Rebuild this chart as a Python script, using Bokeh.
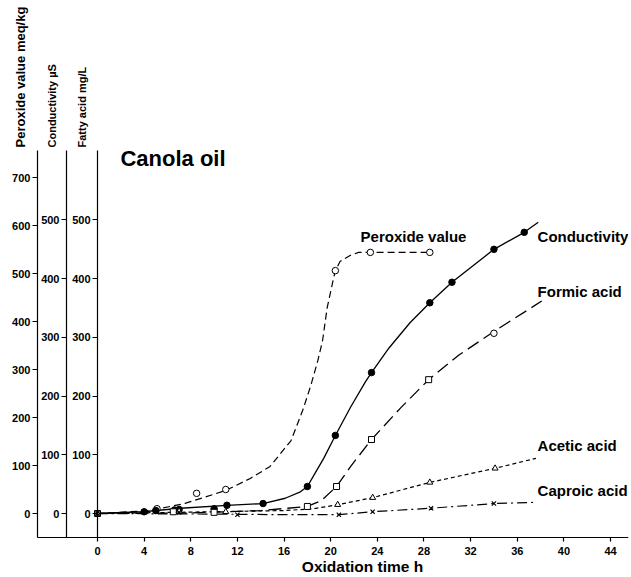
import math
from bokeh.plotting import figure
from bokeh.models import LinearAxis, Range1d, Label, FixedTicker
from bokeh.embed import file_html
from bokeh.resources import INLINE

# ---------------- data ----------------
x_ticks = [0, 4, 8, 12, 16, 20, 24, 28, 32, 36, 40, 44]
fatty_ticks = [0, 100, 200, 300, 400, 500]
cond_ticks = [0, 100, 200, 300, 400, 500]
perox_ticks = [0, 100, 200, 300, 400, 500, 600, 700]

axis_titles = ["Peroxide value meq/kg", "Conductivity \u00b5S", "Fatty acid mg/L"]
x_title = "Oxidation time h"
series_names = ["Peroxide value", "Conductivity", "Formic acid", "Acetic acid", "Caproic acid"]

# Peroxide value (meq/kg)
perox_pts_t = [0, 5.1, 8.5, 11.0, 20.4, 23.4, 28.5]
perox_pts_v = [0, 10, 42, 50, 506, 544, 544]
perox_curve_t = [0, 4.5, 7.5, 11.0, 13.1, 14.8, 16.6, 17.6, 18.3, 18.9, 19.3, 19.7, 20.2, 20.4, 20.8, 21.7, 22.4, 23.4, 28.5]
perox_curve_v = [0, 6, 21, 48, 73, 98, 152, 215, 267, 319, 360, 429, 485, 506, 525, 538, 544, 544, 544]

# Conductivity (uS)
cond_pts_t = [0, 4.0, 5.0, 6.6, 7.0, 10.0, 11.1, 14.2, 18.0, 20.4, 23.5, 28.5, 30.4, 34.0, 36.6]
cond_pts_v = [0, 3, 5, 6, 7, 8, 14, 17, 46, 133, 240, 359, 394, 450, 479]
cond_curve_t = [0, 3.9, 7.1, 11.1, 14.2, 16.1, 17.4, 18.0, 18.7, 19.4, 20.4, 21.7, 23.0, 23.5, 25.0, 26.8, 28.5, 30.4, 34.0, 36.6, 37.8]
cond_curve_v = [0, 3, 9, 14, 17, 26, 37, 46, 70, 94, 133, 181, 225, 240, 282, 325, 359, 394, 450, 479, 496]

# Formic acid (mg/L)
formic_pts_t = [0, 6.5, 10.0, 18.0, 20.5, 23.5, 28.4]
formic_pts_v = [0, 3, 2, 12, 46, 126, 228]
formic_open_t = [34.0]
formic_open_v = [307]
formic_curve_t = [0, 8, 14, 18.0, 19.2, 20.5, 21.7, 23.5, 26.0, 28.4, 31.0, 34.0, 38.1]
formic_curve_v = [0, 1, 5, 12, 22, 46, 80, 126, 180, 228, 270, 310, 362]

# Acetic acid (mg/L)
acetic_pts_t = [0, 7.0, 11.0, 20.6, 23.6, 28.5, 34.1]
acetic_pts_v = [0, 4, 3, 15, 27, 53, 77]
acetic_curve_t = [0, 10, 16, 18.5, 20.6, 23.6, 28.5, 34.1, 37.6]
acetic_curve_v = [0, 3, 5, 8, 15, 27, 53, 77, 94]

# Caproic acid (mg/L)
caproic_pts_t = [0, 7.0, 12.0, 20.7, 23.6, 28.6, 34.0]
caproic_pts_v = [0, 2, -2, -2, 3, 9, 17]
caproic_curve_t = [0, 10, 16, 20.7, 23.6, 28.6, 34.0, 37.7]
caproic_curve_v = [0, -1, -2, -2, 3, 9, 17, 19]

FONT = "Liberation Sans"

# where the extra axes stand (hours left of zero) and where the time axis lies
COND_AXIS_AT = -2.66
PEROX_AXIS_AT = -5.15
TIME_AXIS_AT = -40.9
AXIS_TOP = 618.4

p = figure(width=631, height=577, output_backend="svg", toolbar_location=None,
           x_range=Range1d(-8.319, 45.54), y_range=Range1d(-109.0, 873.9),
           min_border_left=0, min_border_right=3, min_border_top=0,
           min_border_bottom=0, background_fill_color="white",
           border_fill_color="white")
p.extra_y_ranges = {"cond": Range1d(-109.0, 873.9), "perox": Range1d(-133.3, 1068.75)}
p.xgrid.visible = False
p.ygrid.visible = False
p.outline_line_color = None


def style_axis(ax, ticks, tick_out, standoff):
    ax.ticker = FixedTicker(ticks=ticks)
    ax.minor_tick_line_color = None
    ax.major_tick_in = 0
    ax.major_tick_out = tick_out
    ax.major_label_standoff = standoff
    ax.major_label_text_font = FONT
    ax.major_label_text_font_size = "11px"
    ax.major_label_text_font_style = "bold"
    ax.major_label_text_color = "black"
    ax.axis_line_color = "black"
    ax.axis_line_width = 1.2
    ax.major_tick_line_color = "black"
    ax.major_tick_line_width = 1.2


# time axis (its line runs from the peroxide axis to the right edge)
xa = p.xaxis[0]
style_axis(xa, x_ticks, 4, 5)
xa.fixed_location = TIME_AXIS_AT
xa.bounds = (PEROX_AXIS_AT, 45.54)

# fatty acid axis at t = 0
ya = p.yaxis[0]
style_axis(ya, fatty_ticks, 5, 2)
ya.fixed_location = 0
ya.bounds = (TIME_AXIS_AT, AXIS_TOP)

# conductivity axis
ca = LinearAxis(y_range_name="cond", fixed_location=COND_AXIS_AT)
style_axis(ca, cond_ticks, 5, 2)
ca.bounds = (TIME_AXIS_AT, AXIS_TOP)
p.add_layout(ca, "left")

# peroxide axis
pa = LinearAxis(y_range_name="perox", fixed_location=PEROX_AXIS_AT)
style_axis(pa, perox_ticks, 5, 2)
pa.bounds = (-50, 756.25)
p.add_layout(pa, "left")

# ---------------- curves ----------------
p.line(perox_curve_t, perox_curve_v, y_range_name="perox", line_color="black",
       line_width=1.2, line_dash="7 4")
p.line(cond_curve_t, cond_curve_v, y_range_name="cond", line_color="black",
       line_width=1.3)
p.line(formic_curve_t, formic_curve_v, line_color="black", line_width=1.3,
       line_dash="13 6")
p.line(acetic_curve_t, acetic_curve_v, line_color="black", line_width=1.2,
       line_dash="4 3")
p.line(caproic_curve_t, caproic_curve_v, line_color="black", line_width=1.2,
       line_dash="10 4 2 4")

# ---------------- markers ----------------
p.scatter(perox_pts_t, perox_pts_v, y_range_name="perox", marker="circle",
          size=6.5, fill_color="white", line_color="black", line_width=1)
p.scatter(cond_pts_t, cond_pts_v, y_range_name="cond", marker="circle",
          size=6.5, fill_color="black", line_color="black")
p.scatter(formic_pts_t, formic_pts_v, marker="square", size=6,
          fill_color="white", line_color="black", line_width=1)
p.scatter(formic_open_t, formic_open_v, marker="circle", size=6.5,
          fill_color="white", line_color="black", line_width=1)
p.scatter(acetic_pts_t, acetic_pts_v, marker="triangle", size=6,
          fill_color="white", line_color="black", line_width=1)
p.scatter(caproic_pts_t, caproic_pts_v, marker="x", size=6,
          line_color="black", line_width=1.2)

# ---------------- texts ----------------
def add_text(t, x, y, size, angle=0.0, align="left"):
    p.add_layout(Label(x=x, y=y, text=t, text_font=FONT, text_font_size=size,
                       text_font_style="bold", text_color="black",
                       text_align=align, text_baseline="middle", angle=angle))

add_text("Canola oil", 1.97, 604.8, "22px")
add_text(series_names[0], 22.56, 471.9, "15px")
add_text(series_names[1], 37.74, 471.9, "15px")
add_text(series_names[2], 37.74, 378.2, "15px")
add_text(series_names[3], 37.74, 115.8, "15px")
add_text(series_names[4], 37.74, 39.2, "15px")

# title of the time axis, centred under its tick labels
add_text(x_title, 22.73, -90.3, "15.5px", align="center")

# vertical titles standing above the three y axes
add_text(axis_titles[0], -6.60, 623.5, "13px", angle=math.pi / 2)
add_text(axis_titles[1], -3.945, 623.5, "11px", angle=math.pi / 2)
add_text(axis_titles[2], -1.372, 623.5, "11px", angle=math.pi / 2)

open("out.html", "w").write(file_html(p, INLINE))
